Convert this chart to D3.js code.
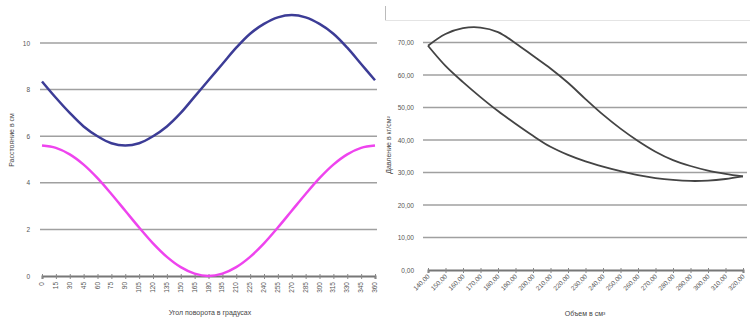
<!DOCTYPE html>
<html>
<head>
<meta charset="utf-8">
<script src="https://cdn.jsdelivr.net/npm/d3@7"></script>
<style>
  body { margin: 0; background: #fff; }
  svg { display: block; font-family: "Liberation Sans", Arial, sans-serif; }
  .grid line { stroke: #a0a0a0; stroke-width: 1.5; }
  .tick-label { fill: #555; font-size: 6.5px; }
  .axis-title { fill: #444; font-size: 7px; }
</style>
</head>
<body>
<svg id="chart" width="750" height="320"></svg>
<script>
// угол поворота, градусы
const angles = [0, 15, 30, 45, 60, 75, 90, 105, 120, 135, 150, 165, 180,
  195, 210, 225, 240, 255, 270, 285, 300, 315, 330, 345, 360];
// перемещение поршней, см
const hotPiston = [8.35, 7.65, 7.0, 6.42, 6.0, 5.7, 5.6, 5.7, 6.0, 6.42, 7.0, 7.7, 8.4,
  9.1, 9.8, 10.4, 10.82, 11.1, 11.2, 11.1, 10.82, 10.4, 9.8, 9.1, 8.4];
const coldPiston = [5.6, 5.5, 5.22, 4.78, 4.2, 3.52, 2.8, 2.08, 1.4, 0.82, 0.38, 0.1, 0.0,
  0.1, 0.38, 0.82, 1.4, 2.08, 2.8, 3.52, 4.2, 4.78, 5.22, 5.5, 5.6];
const leftTicks = [0, 2, 4, 6, 8, 10];

// объем, см3
const volumes = ["140,00", "150,00", "160,00", "170,00", "180,00", "190,00", "200,00",
  "210,00", "220,00", "230,00", "240,00", "250,00", "260,00", "270,00", "280,00",
  "290,00", "300,00", "310,00", "320,00"];
const upperBranch = [69.0, 72.6, 74.4, 74.6, 73.2, 69.8, 65.9, 62.0, 57.6, 52.6,
  47.8, 43.5, 39.7, 36.4, 33.8, 32.0, 30.6, 29.6, 28.8];
const lowerBranch = [69.0, 62.8, 57.8, 53.2, 48.9, 45.0, 41.3, 37.9, 35.4, 33.4,
  31.8, 30.4, 29.2, 28.3, 27.7, 27.4, 27.5, 28.0, 28.8];
const rightTicks = [0, 10, 20, 30, 40, 50, 60, 70];

const svg = d3.select('#chart');
const fmt2 = d => d.toFixed(2).replace('.', ',');

// ---- левый график ----
const xL = d3.scalePoint().domain(angles).range([42, 375]);
const yL = d3.scaleLinear().domain([0, 10]).range([276, 43]);
const left = svg.append('g');

left.append('g').attr('class', 'grid')
  .selectAll('line')
  .data(leftTicks.filter(d => d > 0))
  .join('line')
  .attr('x1', 40).attr('x2', 377)
  .attr('y1', d => yL(d)).attr('y2', d => yL(d));

left.append('g')
  .attr('transform', `translate(0,${yL(0)})`)
  .call(d3.axisBottom(xL).tickSize(3).tickFormat(''))
  .call(g => g.select('.domain').attr('stroke', '#777').attr('stroke-width', 2))
  .call(g => g.selectAll('.tick line').attr('stroke', '#888').attr('y1', -2));

left.append('g')
  .selectAll('text')
  .data(angles)
  .join('text')
  .attr('class', 'tick-label')
  .attr('text-anchor', 'end')
  .attr('transform', d => `translate(${xL(d) + 2},${yL(0) + 6}) rotate(-90)`)
  .text(d => d);

left.append('g')
  .selectAll('text')
  .data(leftTicks)
  .join('text')
  .attr('class', 'tick-label')
  .attr('text-anchor', 'end')
  .attr('x', 30).attr('y', d => yL(d) + 2.5)
  .text(d => d);

const lineL = series => d3.line()
  .x((d, i) => xL(angles[i]))
  .y(d => yL(d))
  .curve(d3.curveCatmullRom)(series);

left.append('path').attr('d', lineL(coldPiston))
  .attr('fill', 'none').attr('stroke', '#ee44ee').attr('stroke-width', 2.5);
left.append('path').attr('d', lineL(hotPiston))
  .attr('fill', 'none').attr('stroke', '#3c3c96').attr('stroke-width', 2.5);

left.append('text').attr('class', 'axis-title')
  .attr('text-anchor', 'middle')
  .attr('transform', 'translate(14,140) rotate(-90)')
  .text('Расстояние в см');
left.append('text').attr('class', 'axis-title')
  .attr('text-anchor', 'middle')
  .attr('x', 210).attr('y', 315)
  .text('Угол поворота в градусах');

// ---- правый график ----
const xR = d3.scalePoint().domain(volumes).range([428, 743]);
const yR = d3.scaleLinear().domain([0, 70]).range([270, 42.5]);
const right = svg.append('g');

right.append('line')
  .attr('x1', 385.5).attr('x2', 385.5).attr('y1', 6).attr('y2', 20)
  .attr('stroke', '#bbb');
right.append('line')
  .attr('x1', 385).attr('x2', 750).attr('y1', 20.5).attr('y2', 20.5)
  .attr('stroke', '#e4e4e4');

right.append('g').attr('class', 'grid')
  .selectAll('line')
  .data(rightTicks.filter(d => d > 0))
  .join('line')
  .attr('x1', 423).attr('x2', 747)
  .attr('y1', d => yR(d)).attr('y2', d => yR(d));

right.append('g')
  .attr('transform', `translate(0,${yR(0)})`)
  .call(d3.axisBottom(xR).tickSize(3).tickFormat(''))
  .call(g => g.select('.domain').attr('stroke', '#777').attr('stroke-width', 2))
  .call(g => g.selectAll('.tick line').attr('stroke', '#888').attr('y1', -2));

right.append('g')
  .selectAll('text')
  .data(volumes)
  .join('text')
  .attr('class', 'tick-label')
  .attr('text-anchor', 'end')
  .attr('transform', d => `translate(${xR(d) + 2},${yR(0) + 7}) rotate(-45)`)
  .text(d => d);

right.append('g')
  .selectAll('text')
  .data(rightTicks)
  .join('text')
  .attr('class', 'tick-label')
  .attr('text-anchor', 'end')
  .attr('x', 414).attr('y', d => yR(d) + 2.5)
  .text(fmt2);

const lineR = series => d3.line()
  .x((d, i) => xR(volumes[i]))
  .y(d => yR(d))
  .curve(d3.curveCatmullRom)(series);

[upperBranch, lowerBranch].forEach(s => {
  right.append('path').attr('d', lineR(s))
    .attr('fill', 'none').attr('stroke', '#444').attr('stroke-width', 1.8);
});

right.append('text').attr('class', 'axis-title')
  .attr('text-anchor', 'middle')
  .attr('transform', 'translate(391,145) rotate(-90)')
  .text('Давление в кг/см²');
right.append('text').attr('class', 'axis-title')
  .attr('text-anchor', 'middle')
  .attr('x', 585).attr('y', 316)
  .text('Объем в см³');
</script>
</body>
</html>
